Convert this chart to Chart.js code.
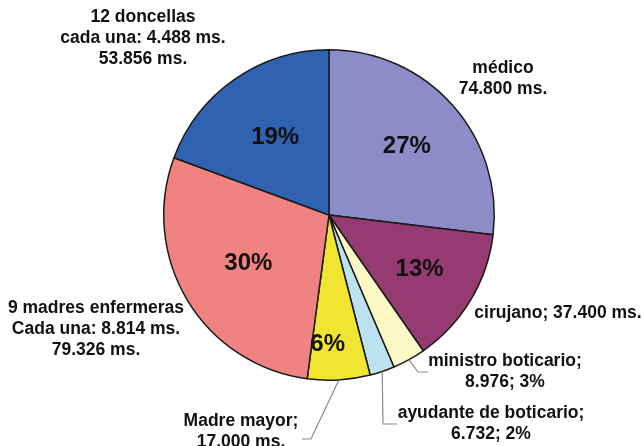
<!DOCTYPE html>
<html>
<head>
<meta charset="utf-8">
<script src="https://cdn.jsdelivr.net/npm/chart.js@4.4.1/dist/chart.umd.min.js"></script>
<style>
  html, body { margin: 0; padding: 0; background: #fff; }
  #wrap { width: 642px; height: 446px; position: relative; }
</style>
</head>
<body>
<div id="wrap"><canvas id="pie"></canvas></div>
<script>
// ─── Data ───
const categories = [
  'médico', 'cirujano', 'ministro boticario', 'ayudante de boticario',
  'Madre mayor', '9 madres enfermeras', '12 doncellas',
];
const values = [74800, 37400, 8976, 6732, 17000, 79326, 53856];
const pctLabels = ['27%', '13%', '', '', '6%', '30%', '19%'];
const outerText = [
  ['médico', '74.800 ms.'],
  ['cirujano; 37.400 ms.'],
  ['ministro boticario;', '8.976; 3%'],
  ['ayudante de boticario;', '6.732; 2%'],
  ['Madre mayor;', '17.000 ms.'],
  ['9 madres enfermeras', 'Cada una: 8.814 ms.', '79.326 ms.'],
  ['12 doncellas', 'cada una: 4.488 ms.', '53.856 ms.'],
];
const colors = ['#8C8CC8', '#963A72', '#FCF9C6', '#BCE2F0', '#F0E632', '#F08282', '#2F63B2'];

// ─── Label placement (style, not data) ───
const innerRadiusFactor = [0.63, 0.64, 0, 0, 0.78, 0.57, 0.57];
const innerAngleNudge = [0, 0, 0, 0, 0.07, 0, 0];
const outerPos = [
  { x: 503, y: 68 }, { x: 558, y: 313 }, { x: 505, y: 361 }, { x: 491, y: 413 },
  { x: 241, y: 421 }, { x: 96, y: 308 }, { x: 143, y: 17 },
];
const leaders = {
  2: [[418, 372], [428, 372]],
  3: [[383, 424], [397, 424]],
  4: [[311, 439], [302, 439]],
};

const labelsPlugin = {
  id: 'pieLabels',
  afterDatasetsDraw(chart) {
    const { ctx } = chart;
    const arcs = chart.getDatasetMeta(0).data;
    ctx.save();
    ctx.textAlign = 'center';
    ctx.textBaseline = 'middle';
    ctx.fillStyle = '#111';

    arcs.forEach((arc, i) => {
      const { x, y, startAngle, endAngle, outerRadius } = arc.getProps(
        ['x', 'y', 'startAngle', 'endAngle', 'outerRadius'], true);
      const mid = (startAngle + endAngle) / 2;

      if (pctLabels[i]) {
        const r = outerRadius * innerRadiusFactor[i];
        const a = mid + innerAngleNudge[i];
        ctx.font = 'bold 24px "Liberation Sans", Arial, sans-serif';
        ctx.fillText(pctLabels[i], x + Math.cos(a) * r, y + Math.sin(a) * r);
      }

      if (leaders[i]) {
        ctx.strokeStyle = '#8a8a8a';
        ctx.lineWidth = 1.2;
        ctx.beginPath();
        ctx.moveTo(x + Math.cos(mid) * outerRadius, y + Math.sin(mid) * outerRadius);
        leaders[i].forEach(([px, py]) => ctx.lineTo(px, py));
        ctx.stroke();
      }

      ctx.font = 'bold 17.5px "Liberation Sans", Arial, sans-serif';
      outerText[i].forEach((line, k) => {
        ctx.fillText(line, outerPos[i].x, outerPos[i].y + k * 21);
      });
    });
    ctx.restore();
  },
};

new Chart(document.getElementById('pie'), {
  type: 'pie',
  data: {
    labels: categories,
    datasets: [{
      data: values,
      backgroundColor: colors,
      borderColor: '#1a1a1a',
      borderWidth: 1.5,
    }],
  },
  options: {
    responsive: true,
    maintainAspectRatio: false,
    animation: false,
    layout: { padding: { top: 49, bottom: 65, left: 150, right: 134 } },
    plugins: { legend: { display: false }, tooltip: { enabled: false } },
  },
  plugins: [labelsPlugin],
});
</script>
</body>
</html>
